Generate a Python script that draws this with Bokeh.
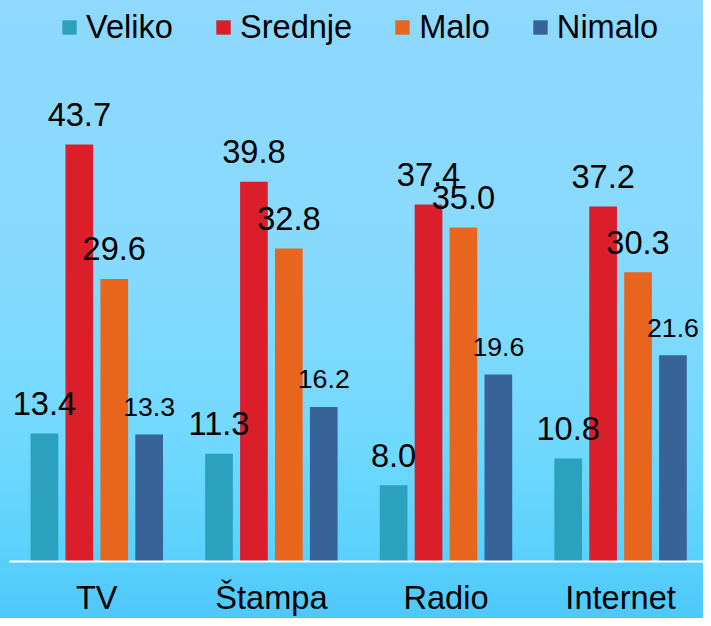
from bokeh.plotting import figure
from bokeh.models import ColumnDataSource, Range1d, FixedTicker, LabelSet
from bokeh.core.properties import value
from bokeh.embed import file_html
from bokeh.resources import INLINE

categories = ["TV", "Štampa", "Radio", "Internet"]
series = ["Veliko", "Srednje", "Malo", "Nimalo"]
veliko = [13.4, 11.3, 8.0, 10.8]
srednje = [43.7, 39.8, 37.4, 37.2]
malo = [29.6, 32.8, 35.0, 30.3]
nimalo = [13.3, 16.2, 19.6, 21.6]
colors = ["#2ba1bd", "#da1f2a", "#e8651e", "#386399"]
label_sizes = ["32.6px", "32.6px", "32.6px", "26.7px"]

values = [veliko, srednje, malo, nimalo]
offsets = [-0.3, -0.1, 0.1, 0.3]
FONT = "Liberation Sans"

p = figure(width=703, height=618, output_backend="svg", toolbar_location=None,
           x_range=Range1d(0, 3.975), y_range=Range1d(0, 58.78),
           y_axis_location=None, min_border_left=9, min_border_right=0,
           min_border_top=0, min_border_bottom=57)
p.background_fill_color = None
p.border_fill_color = None
p.outline_line_color = None
p.grid.visible = False
p.styles = {"background": "linear-gradient(to bottom, #8ed9fd 0%, #88dafd 40%, #72d9fd 70%, #5cd2fc 88%, #4ec8fa 100%)"}

centers = [i + 0.5 for i in range(len(categories))]
sources = []
for s, vals, col, off in zip(series, values, colors, offsets):
    src = ColumnDataSource(dict(x=[c + off for c in centers], top=vals,
                                lbl=["%.1f" % v for v in vals]))
    sources.append(src)
    p.vbar(x="x", top="top", width=0.1586, bottom=0, source=src,
           fill_color=col, line_color=None, legend_label=s)

for src, fs in zip(sources, label_sizes):
    p.add_layout(LabelSet(x="x", y="top", text="lbl", source=src,
                          text_align="center", text_baseline="alphabetic",
                          y_offset=18.5, text_font=value(FONT),
                          text_font_size=value(fs), text_color="#000000"))

ax = p.xaxis[0]
ax.ticker = FixedTicker(ticks=centers)
ax.major_label_overrides = {c: n for c, n in zip(centers, categories)}
ax.major_tick_line_color = None
ax.minor_tick_line_color = None
ax.major_tick_in = 0
ax.major_tick_out = 0
ax.axis_line_color = "#ffffff"
ax.axis_line_width = 2
ax.major_label_text_font = FONT
ax.major_label_text_font_size = "32.6px"
ax.major_label_text_color = "#000000"
ax.major_label_standoff = 17

lg = p.legend[0]
lg.orientation = "horizontal"
lg.location = (51, 515)
lg.padding = 0
lg.margin = 0
lg.spacing = 41
lg.glyph_width = 18
lg.glyph_height = 18
lg.label_standoff = 8
lg.label_text_font = FONT
lg.label_text_font_size = "32.6px"
lg.label_text_color = "#000000"
lg.label_text_baseline = "alphabetic"
lg.border_line_color = None
lg.background_fill_alpha = 0

open("out.html", "w").write(file_html(p, INLINE))
